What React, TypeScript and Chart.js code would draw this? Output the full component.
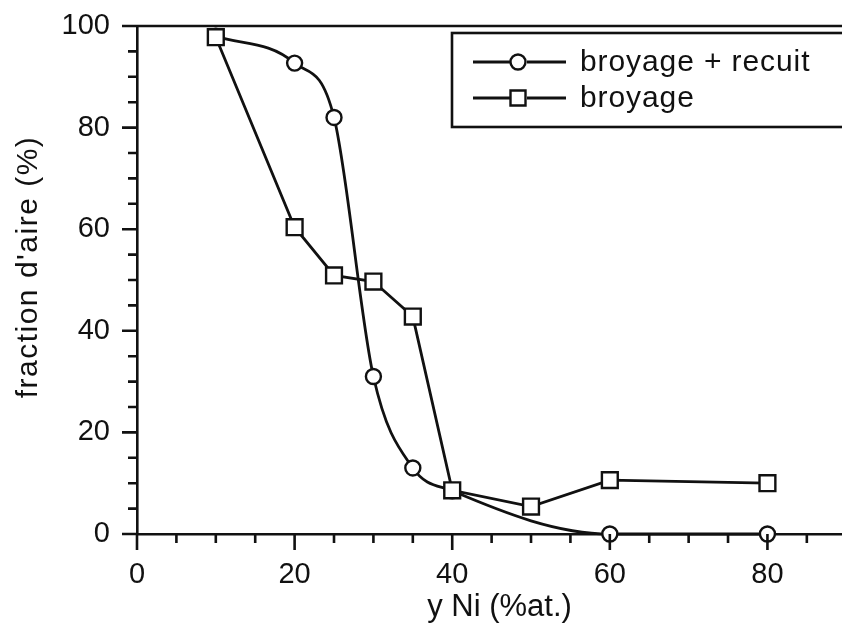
import React, { useEffect, useRef } from 'react';
import { Chart, registerables } from 'chart.js';

Chart.register(...registerables);

// ---- data ----
const xRecuit = [10, 20, 25, 30, 35, 40, 60, 80];
const yRecuit = [98, 92.7, 82, 31, 13, 8.5, 0, 0];
const xBroyage = [10, 20, 25, 30, 35, 40, 50, 60, 80];
const yBroyage = [97.8, 60.4, 50.9, 49.7, 42.8, 8.6, 5.4, 10.6, 10];
const seriesLabels = ['broyage + recuit', 'broyage'];
const xTickLabels = [0, 20, 40, 60, 80];
const yTickLabels = [0, 20, 40, 60, 80, 100];
const xTitle = 'y Ni (%at.)';
const yTitle = "fraction d'aire (%)";

const FONT = "'Liberation Sans', Arial, Helvetica, sans-serif";
const INK = '#111';

const ticksAndFrame = {
  id: 'ticksAndFrame',
  afterDraw(chart: any) {
    const { ctx, chartArea, scales } = chart;
    const xs = scales.x;
    const ys = scales.y;
    ctx.save();
    ctx.strokeStyle = INK;
    ctx.lineWidth = 2.6;
    ctx.lineCap = 'butt';
    ctx.beginPath();
    xs.ticks.forEach((t: any) => {
      if (t.value % 5 !== 0) return;
      const px = xs.getPixelForValue(t.value);
      const len = t.value % 20 === 0 ? 16 : 9;
      ctx.moveTo(px, chartArea.bottom);
      ctx.lineTo(px, chartArea.bottom + len);
    });
    ys.ticks.forEach((t: any) => {
      if (t.value % 5 !== 0) return;
      const py = ys.getPixelForValue(t.value);
      const len = t.value % 20 === 0 ? 15 : 9;
      ctx.moveTo(chartArea.left, py);
      ctx.lineTo(chartArea.left - len, py);
    });
    ctx.moveTo(chartArea.left, chartArea.top);
    ctx.lineTo(chartArea.right, chartArea.top);
    ctx.stroke();

    // y axis title
    ctx.fillStyle = INK;
    ctx.font = `30px ${FONT}`;
    (ctx as any).letterSpacing = '1.5px';
    ctx.textAlign = 'center';
    ctx.textBaseline = 'middle';
    ctx.translate(29, 267);
    ctx.rotate(-Math.PI / 2);
    ctx.fillText(yTitle, 0, 0);
    ctx.restore();
  },
};

const boxLegend = {
  id: 'boxLegend',
  afterDraw(chart: any) {
    const { ctx } = chart;
    const ds = chart.data.datasets;
    ctx.save();
    ctx.strokeStyle = INK;
    ctx.fillStyle = '#fff';
    ctx.lineWidth = 2.6;
    ctx.fillRect(452, 33, 500, 94);
    ctx.strokeRect(452, 33, 500, 94);
    const rows = [62, 98];
    ds.forEach((d: any, i: number) => {
      const y = rows[i];
      ctx.lineWidth = 2.8;
      ctx.strokeStyle = INK;
      ctx.beginPath();
      ctx.moveTo(473, y);
      ctx.lineTo(510, y);
      ctx.moveTo(527, y);
      ctx.lineTo(566, y);
      ctx.stroke();
      ctx.fillStyle = '#fff';
      ctx.lineWidth = 2.4;
      ctx.beginPath();
      if (d.pointStyle === 'circle') {
        ctx.arc(518, y, 7.5, 0, Math.PI * 2);
      } else {
        ctx.rect(518 - 7.5, y - 7.5, 15, 15);
      }
      ctx.fill();
      ctx.stroke();
      ctx.fillStyle = INK;
      ctx.font = `30px ${FONT}`;
      (ctx as any).letterSpacing = '0.9px';
      ctx.textAlign = 'left';
      ctx.textBaseline = 'middle';
      ctx.fillText(d.label, 580, y + 1);
    });
    ctx.restore();
  },
};

export default function App() {
  const ref = useRef<HTMLCanvasElement | null>(null);

  useEffect(() => {
    if (!ref.current) return;
    const chart = new Chart(ref.current, {
      type: 'line',
      data: {
        datasets: [
          {
            label: seriesLabels[0],
            data: xRecuit.map((x, i) => ({ x, y: yRecuit[i] })),
            borderColor: INK,
            borderWidth: 2.8,
            backgroundColor: '#fff',
            pointStyle: 'circle',
            pointRadius: 7.5,
            pointBorderWidth: 2.4,
            pointBackgroundColor: '#fff',
            pointBorderColor: INK,
            cubicInterpolationMode: 'monotone',
            clip: false,
            order: 1,
          },
          {
            label: seriesLabels[1],
            data: xBroyage.map((x, i) => ({ x, y: yBroyage[i] })),
            borderColor: INK,
            borderWidth: 2.8,
            backgroundColor: '#fff',
            pointStyle: 'rect',
            pointRadius: 11.2,
            pointBorderWidth: 2.4,
            pointBackgroundColor: '#fff',
            pointBorderColor: INK,
            tension: 0,
            clip: false,
            order: 0,
          },
        ],
      } as any,
      options: {
        responsive: false,
        animation: false,
        events: [],
        devicePixelRatio: 1,
        layout: { autoPadding: false, padding: { top: 26, left: 0, right: 0, bottom: 0 } },
        plugins: {
          legend: { display: false },
          tooltip: { enabled: false },
          title: { display: false },
        },
        scales: {
          x: {
            type: 'linear',
            min: 0,
            max: 92,
            afterFit: (s: any) => {
              s.height = 96;
              s.paddingLeft = 0;
              s.paddingRight = 0;
              s.paddingTop = 0;
              s.paddingBottom = 0;
            },
            border: { display: true, color: INK, width: 2.6 },
            grid: { drawOnChartArea: false, drawTicks: true, tickLength: 24, tickColor: 'transparent' },
            ticks: {
              stepSize: 5,
              autoSkip: false,
              maxRotation: 0,
              padding: 0,
              color: INK,
              font: { family: FONT, size: 29 },
              callback: (v: any) => (xTickLabels.includes(Number(v)) ? String(v) : ''),
            },
            title: {
              display: true,
              text: xTitle,
              color: INK,
              font: { family: FONT, size: 31 },
              padding: { top: 0, bottom: 4 },
            },
          },
          y: {
            type: 'linear',
            min: 0,
            max: 100,
            afterFit: (s: any) => {
              s.width = 137;
              s.paddingLeft = 0;
              s.paddingRight = 0;
              s.paddingTop = 0;
              s.paddingBottom = 0;
            },
            border: { display: true, color: INK, width: 2.6 },
            grid: { drawOnChartArea: false, drawTicks: true, tickLength: 27, tickColor: 'transparent' },
            ticks: {
              stepSize: 5,
              autoSkip: false,
              padding: 0,
              color: INK,
              font: { family: FONT, size: 29 },
              callback: (v: any) => (yTickLabels.includes(Number(v)) ? String(v) : ''),
            },
            title: { display: false },
          },
        },
      } as any,
      plugins: [ticksAndFrame, boxLegend],
    });
    return () => chart.destroy();
  }, []);

  return (
    <div
      style={{
        position: 'fixed',
        left: 0,
        top: 0,
        width: 842,
        height: 630,
        overflow: 'hidden',
        background: '#fff',
      }}
    >
      <canvas ref={ref} width={862} height={630} style={{ display: 'block' }} />
    </div>
  );
}
